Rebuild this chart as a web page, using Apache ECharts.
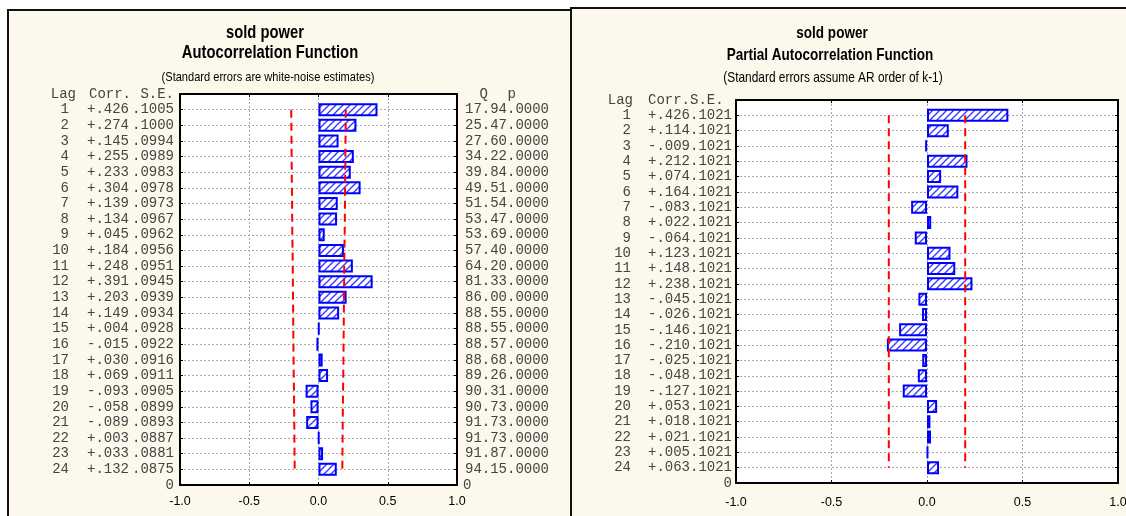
<!DOCTYPE html>
<html><head><meta charset="utf-8">
<script src="https://cdn.jsdelivr.net/npm/echarts@6/dist/echarts.min.js"></script>
<style>html,body{margin:0;padding:0;background:#fff}#c{width:1126px;height:516px}</style>
</head><body><div id="c"></div>
<script>
// ---------- data ----------
const lags = [1,2,3,4,5,6,7,8,9,10,11,12,13,14,15,16,17,18,19,20,21,22,23,24];
const acfCorr = [0.426,0.274,0.145,0.255,0.233,0.304,0.139,0.134,0.045,0.184,0.248,0.391,0.203,0.149,0.004,-0.015,0.030,0.069,-0.093,-0.058,-0.089,0.003,0.033,0.132];
const acfSE = [0.1005,0.1000,0.0994,0.0989,0.0983,0.0978,0.0973,0.0967,0.0962,0.0956,0.0951,0.0945,0.0939,0.0934,0.0928,0.0922,0.0916,0.0911,0.0905,0.0899,0.0893,0.0887,0.0881,0.0875];
const acfLimit = [0.197,0.196,0.195,0.194,0.193,0.192,0.191,0.190,0.189,0.187,0.186,0.185,0.184,0.183,0.182,0.181,0.180,0.179,0.177,0.176,0.175,0.174,0.173,0.172];
const acfQ = [17.94,25.47,27.60,34.22,39.84,49.51,51.54,53.47,53.69,57.40,64.20,81.33,86.00,88.55,88.55,88.57,88.68,89.26,90.31,90.73,91.73,91.73,91.87,94.15];
const acfP = [0,0,0,0,0,0,0,0,0,0,0,0,0,0,0,0,0,0,0,0,0,0,0,0];
const pacfCorr = [0.426,0.114,-0.009,0.212,0.074,0.164,-0.083,0.022,-0.064,0.123,0.148,0.238,-0.045,-0.026,-0.146,-0.210,-0.025,-0.048,-0.127,0.053,0.018,0.021,0.005,0.063];
const pacfSE = [0.1021,0.1021,0.1021,0.1021,0.1021,0.1021,0.1021,0.1021,0.1021,0.1021,0.1021,0.1021,0.1021,0.1021,0.1021,0.1021,0.1021,0.1021,0.1021,0.1021,0.1021,0.1021,0.1021,0.1021];
const pacfLimit = [0.200,0.200,0.200,0.200,0.200,0.200,0.200,0.200,0.200,0.200,0.200,0.200,0.200,0.200,0.200,0.200,0.200,0.200,0.200,0.200,0.200,0.200,0.200,0.200];
const xMin = -1.0, xMax = 1.0, xStep = 0.5;

// ---------- helpers ----------
const yCats = [''].concat(lags.map(String)).concat(['0']);
const fmtCorr = v => (v < 0 ? '-' : '+') + Math.abs(v).toFixed(3).slice(1);
const fmt4 = v => v.toFixed(4).slice(1);
const monoFont = "'Liberation Mono', 'Courier New', monospace";
const sans = "'Liberation Sans', Arial, sans-serif";
const mono = {fontFamily: monoFont, fontSize: 14, color: '#444444'};
const tok = (w, align) => Object.assign({width: w, align: align}, mono);

// hatch pattern
const pc = document.createElement('canvas');
pc.width = 7; pc.height = 7;
const g = pc.getContext('2d');
g.fillStyle = '#ffffff'; g.fillRect(0, 0, 7, 7);
g.strokeStyle = '#3535ff'; g.lineWidth = 1.3;
g.beginPath(); g.moveTo(-1, 8); g.lineTo(8, -1); g.stroke();
g.beginPath(); g.moveTo(-1, 1); g.lineTo(1, -1); g.stroke();
g.beginPath(); g.moveTo(6, 8); g.lineTo(8, 6); g.stroke();
const hatch = {image: pc, repeat: 'repeat'};

const splitDash = {color: '#a8a8a8', width: 1, type: [2, 2]};
const blackLine = {show: true, onZero: false, lineStyle: {color: '#000', width: 2}};

function xAxes(gi, margin) {
  return [{
    type: 'value', gridIndex: gi, position: 'bottom', min: xMin, max: xMax, interval: xStep,
    axisLine: blackLine,
    axisTick: {show: true, inside: true, length: 3, lineStyle: {color: '#000'}},
    axisLabel: {margin: margin, color: '#000', fontFamily: sans, fontSize: 12.5, formatter: v => v.toFixed(1)},
    splitLine: {show: true, lineStyle: splitDash}
  }, {
    type: 'value', gridIndex: gi, position: 'top', min: xMin, max: xMax, interval: xStep,
    axisLine: blackLine,
    axisTick: {show: true, inside: true, length: 3, lineStyle: {color: '#000'}},
    axisLabel: {show: false}, splitLine: {show: false}
  }];
}
function yAxis(gi, pos, label, split) {
  return {
    type: 'category', gridIndex: gi, position: pos, data: yCats, inverse: true, boundaryGap: false,
    axisLine: blackLine,
    axisTick: {show: true, inside: true, length: 3, interval: 0, lineStyle: {color: '#000'}},
    splitLine: split ? {show: true, interval: (i) => i > 0 && i < yCats.length - 1, lineStyle: splitDash} : {show: false},
    axisLabel: label
  };
}

const acfLeftLabel = {
  show: true, interval: 0, hideOverlap: false, margin: 6, align: 'right',
  fontFamily: monoFont, fontSize: 14, color: '#444444',
  formatter: (v, i) => {
    if (i === 0) return '{hl|Lag}{hc|Corr.}{hs|S.E.}';
    if (i === yCats.length - 1) return '{z|0}';
    const k = i - 1;
    return '{l|' + lags[k] + '}{c|' + fmtCorr(acfCorr[k]) + '}{s|' + fmt4(acfSE[k]) + '}';
  },
  rich: {l: tok(31,'right'), c: tok(60,'right'), s: tok(45,'right'), hl: tok(38,'right'), hc: tok(55,'right'), hs: tok(43,'right'), z: mono}
};
const acfRightLabel = {
  show: true, interval: 0, hideOverlap: false, margin: 6, align: 'left',
  fontFamily: monoFont, fontSize: 14, color: '#444444',
  formatter: (v, i) => {
    if (i === 0) return '{hq|Q}{hp|p}';
    if (i === yCats.length - 1) return '{z|0}';
    const k = i - 1;
    return '{q|' + acfQ[k].toFixed(2) + '}{p|' + fmt4(acfP[k]) + '}';
  },
  rich: {q: tok(44,'right'), p: tok(42,'right'), hq: tok(25,'right'), hp: tok(28,'right'), z: mono}
};
const pacfLeftLabel = {
  show: true, interval: 0, hideOverlap: false, margin: 4, align: 'right',
  fontFamily: monoFont, fontSize: 14, color: '#444444',
  formatter: (v, i) => {
    if (i === 0) return '{hl|Lag}{hc|Corr.S.E. }';
    if (i === yCats.length - 1) return '{z|0}';
    const k = i - 1;
    return '{l|' + lags[k] + '}{c|' + fmtCorr(pacfCorr[k]) + fmt4(pacfSE[k]) + '}';
  },
  rich: {l: tok(30,'right'), c: tok(101,'right'), hl: tok(32,'right'), hc: tok(99,'right'), z: mono}
};

const barStyle = {color: hatch, borderColor: '#0000ff', borderWidth: 2};
const limitStyle = {color: '#ff0000', width: 2, type: [8, 5]};
function pairs(vals) { return vals.map((v, k) => [v, k + 1]); }
function negPairs(vals) { return vals.map((v, k) => [-v, k + 1]); }

function title(x, y, text, size, bold) {
  return {type: 'text', x: x, y: y, scaleX: 0.82, scaleY: 1,
    style: {text: text, fontFamily: sans, fontWeight: bold ? 'bold' : 'normal', fontSize: size, fill: '#000', align: 'center', verticalAlign: 'middle'}};
}

const chart = echarts.init(document.getElementById('c'), null, {renderer: 'canvas'});
chart.setOption({
  animation: false,
  backgroundColor: '#ffffff',
  graphic: [
    {type: 'rect', z: -100, shape: {x: 8, y: 10, width: 563, height: 540}, style: {fill: '#fdf8ec', stroke: '#111', lineWidth: 2}},
    {type: 'rect', z: -100, shape: {x: 571, y: 8, width: 580, height: 540}, style: {fill: '#fdf8ec', stroke: '#111', lineWidth: 2}},
    title(265, 33, 'sold power', 18, true),
    title(270, 53, 'Autocorrelation Function', 18, true),
    title(268, 77, '(Standard errors are white-noise estimates)', 13.5, false),
    title(832, 33, 'sold power', 16.5, true),
    title(830, 55, 'Partial Autocorrelation Function', 16.5, true),
    title(833, 78, '(Standard errors assume AR order of k-1)', 14.5, false)
  ],
  grid: [
    {left: 180, top: 94, width: 277, height: 391, show: true, backgroundColor: '#fff', borderWidth: 0, containLabel: false, outerBoundsMode: 'none'},
    {left: 736, top: 100, width: 382, height: 383, show: true, backgroundColor: '#fff', borderWidth: 0, containLabel: false, outerBoundsMode: 'none'}
  ],
  xAxis: xAxes(0, 10).concat(xAxes(1, 13)),
  yAxis: [
    yAxis(0, 'left', acfLeftLabel, true),
    yAxis(0, 'right', acfRightLabel, false),
    yAxis(1, 'left', pacfLeftLabel, true),
    yAxis(1, 'right', {show: false}, false)
  ],
  series: [
    {type: 'bar', name: 'ACF', xAxisIndex: 0, yAxisIndex: 0, barWidth: 13, data: pairs(acfCorr), itemStyle: barStyle},
    {type: 'line', name: 'ACF upper', xAxisIndex: 0, yAxisIndex: 0, symbol: 'none', data: pairs(acfLimit), lineStyle: limitStyle},
    {type: 'line', name: 'ACF lower', xAxisIndex: 0, yAxisIndex: 0, symbol: 'none', data: negPairs(acfLimit), lineStyle: limitStyle},
    {type: 'bar', name: 'PACF', xAxisIndex: 2, yAxisIndex: 2, barWidth: 13, data: pairs(pacfCorr), itemStyle: barStyle},
    {type: 'line', name: 'PACF upper', xAxisIndex: 2, yAxisIndex: 2, symbol: 'none', data: pairs(pacfLimit), lineStyle: limitStyle},
    {type: 'line', name: 'PACF lower', xAxisIndex: 2, yAxisIndex: 2, symbol: 'none', data: negPairs(pacfLimit), lineStyle: limitStyle}
  ]
});
</script></body></html>
